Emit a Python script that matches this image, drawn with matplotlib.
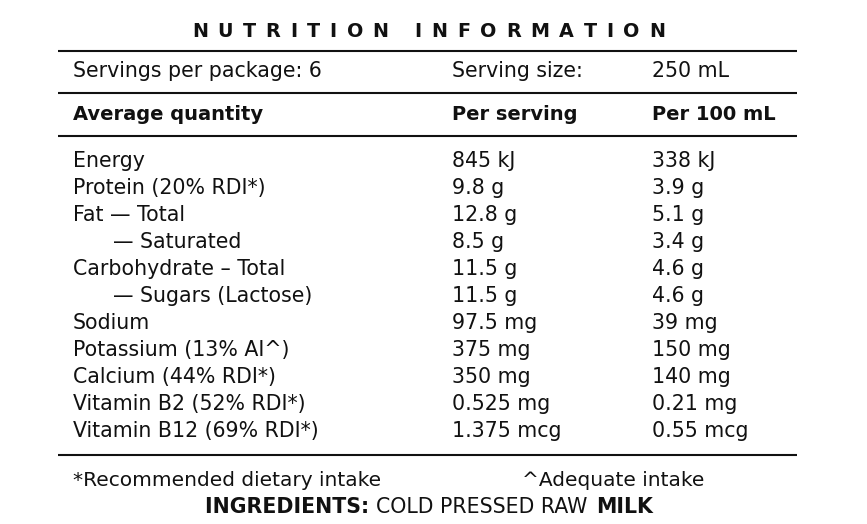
import matplotlib
matplotlib.use("Agg")
import matplotlib.pyplot as plt
from matplotlib import font_manager
from matplotlib.font_manager import FontProperties
from matplotlib.ft2font import FT2Font
try:
    from matplotlib.ft2font import LoadFlags
    NOHINT = LoadFlags.NO_HINTING
except Exception:
    from matplotlib.ft2font import LOAD_NO_HINTING as NOHINT

title = "NUTRITION INFORMATION"
servings_label = "Servings per package: 6"
serving_size_label = "Serving size:"
serving_size_value = "250 mL"
header = ["Average quantity", "Per serving", "Per 100 mL"]
nutrients = ["Energy", "Protein (20% RDI*)", "Fat \u2014 Total", "\u2014 Saturated",
             "Carbohydrate \u2013 Total", "\u2014 Sugars (Lactose)", "Sodium",
             "Potassium (13% AI^)", "Calcium (44% RDI*)", "Vitamin B2 (52% RDI*)",
             "Vitamin B12 (69% RDI*)"]
per_serving = ["845 kJ", "9.8 g", "12.8 g", "8.5 g", "11.5 g", "11.5 g", "97.5 mg",
               "375 mg", "350 mg", "0.525 mg", "1.375 mcg"]
per_100ml = ["338 kJ", "3.9 g", "5.1 g", "3.4 g", "4.6 g", "4.6 g", "39 mg",
             "150 mg", "140 mg", "0.21 mg", "0.55 mcg"]
footnote_left = "*Recommended dietary intake"
footnote_right = "^Adequate intake"
ingredients = [("INGREDIENTS: ", "bold"), ("COLD PRESSED RAW ", "normal"), ("MILK", "bold")]

W, H = 867, 524
DPI = 100
fig = plt.figure(figsize=(W / DPI, H / DPI), dpi=DPI)
ax = fig.add_axes([0, 0, 1, 1])
ax.set_xlim(0, W)
ax.set_ylim(H, 0)
ax.axis("off")

FAMILY = "DejaVu Sans"
INK = "#111111"
_fonts = {}


def _font(weight, size):
    key = (weight, size)
    if key not in _fonts:
        path = font_manager.findfont(FontProperties(family=FAMILY, weight=weight))
        f = FT2Font(path)
        f.set_size(size, DPI)
        _fonts[key] = f
    return _fonts[key]


def advance(c, weight, size):
    g = _font(weight, size).load_char(ord(c), flags=NOHINT)
    return g.linearHoriAdvance / 65536.0


def text_width(s, weight, size, track=0.0):
    return sum(advance(c, weight, size) for c in s) + track * (len(s) - 1)


def put(x, y, s, weight="normal", size=14.5):
    ax.text(x, y, s, fontsize=size, fontweight=weight, family=FAMILY,
            va="baseline", ha="left", color=INK)


def draw_tracked_center(xc, y, s, weight, size, track):
    x = xc - text_width(s, weight, size, track) / 2
    for c in s:
        if c != " ":
            put(x, y, c, weight, size)
        x += advance(c, weight, size) + track


BODY = 14.8
HEAD = 14.0
FOOT = 14.5
col_x = [73, 452, 652]

# horizontal rules
for y in [51, 92.7, 135.7, 455]:
    ax.plot([58, 797], [y, y], color=INK, lw=1.5, solid_capstyle="butt")

# title (letter-spaced)
draw_tracked_center(428.5, 37.3, title, "bold", 13.8, 9.7)

# servings row
put(col_x[0], 77.3, servings_label, size=BODY)
put(col_x[1], 77.3, serving_size_label, size=BODY)
put(col_x[2], 77.3, serving_size_value, size=BODY)

# header
for cx, h in zip(col_x, header):
    put(cx, 120, h, weight="bold", size=HEAD)

# body rows
y0, dy = 167.3, 27.0
for i, (n, a, b) in enumerate(zip(nutrients, per_serving, per_100ml)):
    y = y0 + i * dy
    nx = col_x[0] + (40 if n.startswith("\u2014") else 0)
    put(nx, y, n, size=BODY)
    put(col_x[1], y, a, size=BODY)
    put(col_x[2], y, b, size=BODY)

# footnotes
put(73, 486, footnote_left, size=FOOT)
put(522, 486, footnote_right, size=FOOT)

# ingredients line centred
ING = 14.8
total = sum(text_width(s, w, ING) for s, w in ingredients)
x = 429 - total / 2
for s, w in ingredients:
    put(x, 513.3, s, weight=w, size=ING)
    x += text_width(s, w, ING)

fig.savefig("out.png", dpi=DPI)
